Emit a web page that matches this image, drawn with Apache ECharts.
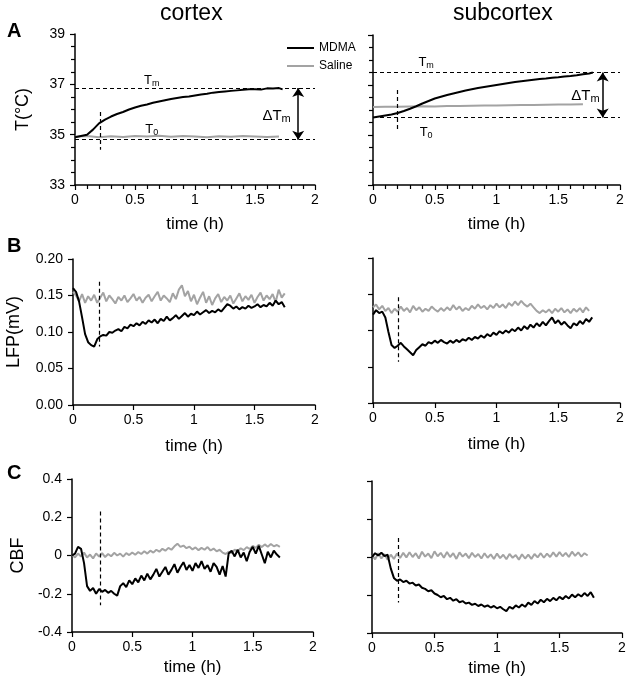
<!DOCTYPE html>
<html>
<head>
<meta charset="utf-8">
<script src="https://cdn.jsdelivr.net/npm/echarts@6/dist/echarts.min.js"></script>
<style>
html, body { margin: 0; padding: 0; background: #fff; }
#main { width: 629px; height: 685px; }
</style>
</head>
<body>
<div id="main"></div>
<script>
// ---- data ----
// temperature (A), smooth traces
var tempCortexMdma = [34.9, 34.95, 35.0, 35.2, 35.45, 35.6, 35.72, 35.82, 35.9, 36.0, 36.08, 36.15, 36.2, 36.27, 36.32, 36.37, 36.42, 36.46, 36.5, 36.52, 36.56, 36.6, 36.63, 36.67, 36.7, 36.72, 36.74, 36.76, 36.78, 36.8, 36.8, 36.79, 36.84, 36.83, 36.85, 36.8];
var tempCortexSaline = [34.92, 34.95, 34.9, 34.94, 34.91, 34.95, 34.93, 34.96, 34.92, 34.95, 34.93, 34.9, 34.94, 34.92, 34.95, 34.93, 34.91, 34.93];
var tempSubMdma = [35.7, 35.74, 35.78, 35.82, 35.88, 35.96, 36.05, 36.15, 36.26, 36.36, 36.46, 36.53, 36.6, 36.66, 36.72, 36.78, 36.83, 36.88, 36.92, 36.96, 37.0, 37.04, 37.08, 37.12, 37.15, 37.18, 37.21, 37.24, 37.26, 37.29, 37.31, 37.34, 37.36, 37.39, 37.43, 37.46, 37.5];
var tempSubSaline = [36.12, 36.13, 36.13, 36.14, 36.15, 36.14, 36.16, 36.16, 36.17, 36.18, 36.18, 36.19, 36.2, 36.2, 36.21, 36.22, 36.22, 36.23];

// LFP (B), sampled every 0.025 h
var lfpCortexMdma = [0.160, 0.155, 0.142, 0.120, 0.097, 0.086, 0.082, 0.080, 0.090, 0.094, 0.096, 0.095, 0.100, 0.099, 0.102, 0.104, 0.101, 0.107, 0.105, 0.110, 0.108, 0.112, 0.109, 0.114, 0.111, 0.116, 0.113, 0.117, 0.112, 0.118, 0.115, 0.121, 0.116, 0.119, 0.123, 0.118, 0.122, 0.126, 0.121, 0.125, 0.123, 0.128, 0.124, 0.127, 0.130, 0.126, 0.129, 0.127, 0.131, 0.128, 0.133, 0.138, 0.136, 0.132, 0.135, 0.131, 0.134, 0.132, 0.136, 0.133, 0.135, 0.138, 0.134, 0.137, 0.135, 0.140, 0.136, 0.143, 0.138, 0.141, 0.134];
var lfpCortexSaline = [0.155, 0.150, 0.142, 0.152, 0.140, 0.149, 0.143, 0.151, 0.140, 0.147, 0.154, 0.142, 0.150, 0.145, 0.139, 0.148, 0.143, 0.150, 0.141, 0.146, 0.152, 0.143, 0.148, 0.140, 0.147, 0.151, 0.142, 0.149, 0.155, 0.143, 0.150, 0.146, 0.141, 0.153, 0.145, 0.158, 0.164, 0.149, 0.156, 0.142, 0.151, 0.138, 0.147, 0.155, 0.140, 0.149, 0.137, 0.146, 0.152, 0.141, 0.148, 0.143, 0.150, 0.139, 0.146, 0.153, 0.142, 0.149, 0.144, 0.151, 0.140, 0.148, 0.154, 0.143, 0.150, 0.145, 0.152, 0.141, 0.158, 0.147, 0.153];
var lfpSubMdma = [0.122, 0.128, 0.124, 0.126, 0.118, 0.098, 0.080, 0.076, 0.079, 0.083, 0.078, 0.074, 0.070, 0.066, 0.073, 0.077, 0.081, 0.079, 0.084, 0.082, 0.086, 0.083, 0.087, 0.084, 0.082, 0.086, 0.083, 0.087, 0.084, 0.088, 0.086, 0.090, 0.087, 0.091, 0.089, 0.093, 0.090, 0.095, 0.092, 0.097, 0.094, 0.099, 0.096, 0.100, 0.097, 0.102, 0.099, 0.104, 0.100, 0.106, 0.102, 0.108, 0.104, 0.110, 0.106, 0.112, 0.107, 0.113, 0.118, 0.110, 0.114, 0.108, 0.112, 0.107, 0.103, 0.110, 0.107, 0.113, 0.109, 0.116, 0.112, 0.118];
var lfpSubSaline = [0.132, 0.136, 0.129, 0.134, 0.127, 0.131, 0.124, 0.130, 0.126, 0.133, 0.127, 0.131, 0.125, 0.134, 0.128, 0.132, 0.126, 0.130, 0.127, 0.133, 0.129, 0.126, 0.131, 0.127, 0.132, 0.128, 0.135, 0.129, 0.133, 0.127, 0.131, 0.128, 0.134, 0.130, 0.136, 0.131, 0.134, 0.129, 0.135, 0.131, 0.137, 0.132, 0.136, 0.131, 0.138, 0.134, 0.140, 0.135, 0.141, 0.136, 0.133, 0.137, 0.132, 0.127, 0.124, 0.128, 0.125, 0.129, 0.124, 0.130, 0.126, 0.131, 0.125, 0.129, 0.124, 0.130, 0.126, 0.131, 0.125, 0.132, 0.127];

// CBF (C), sampled every 0.025 h
var cbfCortexMdma = [0.000, 0.010, 0.045, 0.035, -0.040, -0.160, -0.185, -0.170, -0.200, -0.175, -0.190, -0.180, -0.195, -0.185, -0.200, -0.210, -0.160, -0.145, -0.165, -0.130, -0.150, -0.120, -0.140, -0.105, -0.130, -0.095, -0.125, -0.100, -0.070, -0.110, -0.085, -0.060, -0.100, -0.075, -0.045, -0.090, -0.060, -0.035, -0.075, -0.050, -0.080, -0.040, -0.065, -0.030, -0.070, -0.050, -0.085, -0.040, -0.060, -0.100, -0.055, -0.110, 0.010, 0.025, -0.005, 0.030, -0.010, 0.015, -0.030, 0.020, 0.045, 0.010, 0.050, 0.005, -0.040, 0.020, -0.010, 0.025, 0.005, -0.010];
var cbfCortexSaline = [0.005, -0.010, 0.010, -0.005, 0.015, -0.010, 0.005, -0.015, 0.010, -0.005, 0.012, -0.008, 0.008, -0.004, 0.014, 0.000, 0.010, -0.006, 0.012, 0.002, 0.016, 0.004, 0.018, 0.008, 0.022, 0.010, 0.025, 0.015, 0.030, 0.020, 0.035, 0.025, 0.040, 0.030, 0.048, 0.062, 0.045, 0.052, 0.038, 0.046, 0.032, 0.042, 0.028, 0.040, 0.030, 0.044, 0.026, 0.036, 0.022, 0.030, 0.015, 0.008, 0.020, 0.012, 0.030, 0.022, 0.038, 0.028, 0.044, 0.034, 0.050, 0.040, 0.056, 0.044, 0.058, 0.046, 0.060, 0.048, 0.055, 0.045];
var cbfSubMdma = [0.000, 0.020, 0.008, 0.022, 0.005, 0.012, -0.060, -0.110, -0.125, -0.118, -0.132, -0.125, -0.140, -0.135, -0.150, -0.145, -0.162, -0.168, -0.180, -0.175, -0.192, -0.200, -0.212, -0.205, -0.222, -0.215, -0.230, -0.222, -0.238, -0.232, -0.245, -0.240, -0.252, -0.246, -0.258, -0.250, -0.262, -0.255, -0.266, -0.258, -0.270, -0.262, -0.275, -0.285, -0.262, -0.272, -0.255, -0.266, -0.250, -0.262, -0.240, -0.252, -0.232, -0.245, -0.225, -0.238, -0.220, -0.232, -0.215, -0.228, -0.210, -0.222, -0.205, -0.218, -0.198, -0.212, -0.196, -0.208, -0.190, -0.205, -0.185, -0.215];
var cbfSubSaline = [0.010, -0.012, 0.020, -0.008, 0.015, -0.015, 0.012, -0.010, 0.018, -0.005, 0.022, -0.002, 0.025, 0.000, 0.020, -0.008, 0.028, 0.002, 0.018, -0.006, 0.030, 0.004, 0.022, -0.004, 0.026, 0.000, 0.020, -0.010, 0.024, 0.002, 0.018, -0.006, 0.022, 0.000, 0.016, -0.008, 0.020, -0.004, 0.014, -0.010, 0.018, -0.006, 0.012, -0.012, 0.016, -0.004, 0.010, -0.014, 0.014, -0.008, 0.012, -0.010, 0.016, -0.002, 0.020, -0.004, 0.018, 0.000, 0.024, 0.002, 0.026, 0.004, 0.022, 0.000, 0.028, 0.006, 0.024, 0.002, 0.020, 0.008];

// baseline / peak temperatures and injection time
var tmCortex = 36.85, t0Cortex = 34.8;
var tmSub = 37.5, t0Sub = 35.7;
var injectTime = [0.21, 0.2, 0.215, 0.205, 0.235, 0.21];

var FONT = 'Liberation Sans, Arial, sans-serif';
var GRAY = '#a3a3a3';

function steps(step, n) {
    var out = [];
    for (var i = 0; i < n; i++) out.push(+(i * step).toFixed(3));
    return out;
}
function pairs(times, vals) {
    return vals.map(function(v, i) { return [times[i], v]; });
}
function sampled(vals) {
    return pairs(steps(0.025, vals.length), vals);
}

var tTempCortex = steps(0.05, 35).concat([1.73]);
var tTempSub = steps(0.05, 36).concat([1.78]);
var tSaline = steps(0.1, 18);

var grids = [
    {left: 75, top: 34, width: 240, height: 151},
    {left: 373, top: 35, width: 247, height: 150},
    {left: 73, top: 259, width: 242, height: 146},
    {left: 373, top: 258, width: 247, height: 145},
    {left: 72, top: 479, width: 241, height: 153},
    {left: 372, top: 481, width: 250, height: 152}
];

function xAxis(i, minor, gap) {
    return {
        type: 'value', gridIndex: i, min: 0, max: 2, interval: 0.5,
        name: 'time (h)', nameLocation: 'middle', nameGap: gap,
        nameTextStyle: {fontSize: 17, color: '#000', fontFamily: FONT},
        axisLine: {onZero: false, lineStyle: {color: '#000', width: 1.5}},
        axisTick: {length: 5, lineStyle: {color: '#000', width: 1.2}},
        minorTick: {show: minor, splitNumber: 5, length: 4, lineStyle: {color: '#000', width: 1.2}},
        axisLabel: {fontSize: 14, color: '#000', fontFamily: FONT, margin: 8},
        splitLine: {show: false}
    };
}
function yAxis(i, opt) {
    return {
        type: 'value', gridIndex: i, min: opt.min, max: opt.max, interval: opt.interval,
        name: opt.name || '', nameLocation: 'middle', nameGap: opt.gap || 0,
        nameTextStyle: {fontSize: 18, color: '#000', fontFamily: FONT},
        axisLine: {show: true, onZero: false, lineStyle: {color: '#000', width: 1.5}},
        axisTick: {show: true, length: 5, lineStyle: {color: '#000', width: 1.2}},
        minorTick: {show: !!opt.minor, splitNumber: 4, length: 4, lineStyle: {color: '#000', width: 1.2}},
        axisLabel: {show: opt.labels, fontSize: 14, color: '#000', fontFamily: FONT, margin: 10, formatter: opt.fmt},
        splitLine: {show: false}
    };
}

var dash = {color: '#000', width: 1.2, type: [4, 3]};

function vline(t, y1, y2) {
    return [{coord: [t, y1], lineStyle: dash}, {coord: [t, y2], lineStyle: dash}];
}
function subLabel(main, sub, size) {
    return {
        show: true, position: 'inside', color: '#000',
        formatter: '{b|' + main + '}{s|' + sub + '}',
        rich: {
            b: {fontSize: size, fontFamily: FONT, color: '#000'},
            s: {fontSize: Math.round(size * 0.7), fontFamily: FONT, color: '#000', padding: [6, 0, 0, 0]}
        }
    };
}
function note(coord, main, sub, size) {
    return {coord: coord, label: subLabel(main, sub, size)};
}

function line(name, i, data, color, extra) {
    var s = {
        name: name, type: 'line', xAxisIndex: i, yAxisIndex: i,
        data: data, showSymbol: false, symbol: 'none', silent: true,
        lineStyle: {color: color, width: 2}, itemStyle: {color: color}
    };
    for (var k in extra) s[k] = extra[k];
    return s;
}

// Tm / T0 lines, injection marker, delta arrow and labels
function tempMarks(i, tm, t0, yTop, yBot, notes) {
    return {
        markLine: {
            silent: true, symbol: 'none', label: {show: false}, lineStyle: dash,
            data: [
                {yAxis: tm, lineStyle: dash},
                {yAxis: t0, lineStyle: dash},
                vline(injectTime[i], yTop, yBot),
                [{coord: [1.86, tm], symbol: 'arrow', symbolSize: 9, lineStyle: {color: '#000', width: 1.5, type: 'solid'}},
                 {coord: [1.86, t0], symbol: 'arrow', symbolSize: 9}]
            ]
        },
        markPoint: {
            silent: true, symbol: 'circle', symbolSize: 1,
            itemStyle: {color: 'rgba(0,0,0,0)'},
            data: notes
        }
    };
}
function injMark(i, yTop, yBot) {
    return {
        markLine: {
            silent: true, symbol: 'none', label: {show: false}, lineStyle: dash,
            data: [vline(injectTime[i], yTop, yBot)]
        }
    };
}

var chart = echarts.init(document.getElementById('main'));
chart.setOption({
    animation: false,
    backgroundColor: '#fff',
    textStyle: {fontFamily: FONT},
    grid: grids,
    legend: {
        data: ['MDMA', 'Saline'], orient: 'vertical', left: 282, top: 37,
        icon: 'rect', itemWidth: 27, itemHeight: 2, itemGap: 6,
        textStyle: {fontSize: 12, color: '#000', fontFamily: FONT}
    },
    graphic: [
        {type: 'text', left: 160, top: 2, style: {text: 'cortex', fontSize: 23, fontFamily: FONT, fill: '#000'}},
        {type: 'text', left: 453, top: 2, style: {text: 'subcortex', fontSize: 23, fontFamily: FONT, fill: '#000'}},
        {type: 'text', left: 7, top: 21, style: {text: 'A', fontSize: 20, fontWeight: 'bold', fontFamily: FONT, fill: '#000'}},
        {type: 'text', left: 7, top: 236, style: {text: 'B', fontSize: 20, fontWeight: 'bold', fontFamily: FONT, fill: '#000'}},
        {type: 'text', left: 7, top: 463, style: {text: 'C', fontSize: 20, fontWeight: 'bold', fontFamily: FONT, fill: '#000'}}
    ],
    xAxis: [
        xAxis(0, true, 31), xAxis(1, true, 31),
        xAxis(2, false, 33), xAxis(3, false, 33),
        xAxis(4, false, 27), xAxis(5, false, 27)
    ],
    yAxis: [
        yAxis(0, {min: 33, max: 39, interval: 2, minor: true, labels: true, name: 'T(°C)', gap: 43}),
        yAxis(1, {min: 33, max: 39, interval: 2, minor: true, labels: false}),
        yAxis(2, {min: 0, max: 0.2, interval: 0.05, labels: true, name: 'LFP(mV)', gap: 50,
                  fmt: function(v) { return v.toFixed(2); }}),
        yAxis(3, {min: 0, max: 0.2, interval: 0.05, labels: false}),
        yAxis(4, {min: -0.4, max: 0.4, interval: 0.2, labels: true, name: 'CBF', gap: 45}),
        yAxis(5, {min: -0.4, max: 0.4, interval: 0.2, labels: false})
    ],
    series: [
        line('Saline', 0, pairs(tSaline, tempCortexSaline), GRAY),
        line('MDMA', 0, pairs(tTempCortex, tempCortexMdma), '#000',
            tempMarks(0, tmCortex, t0Cortex, 35.9, 34.4, [
                note([0.64, 37.17], 'T', 'm', 13),
                note([0.64, 35.2], 'T', '0', 13),
                note([1.68, 35.75], 'ΔT', 'm', 15)
            ])),
        line('Saline', 1, pairs(tSaline, tempSubSaline), GRAY),
        line('MDMA', 1, pairs(tTempSub, tempSubMdma), '#000',
            tempMarks(1, tmSub, t0Sub, 36.8, 35.2, [
                note([0.43, 37.9], 'T', 'm', 13),
                note([0.43, 35.1], 'T', '0', 13),
                note([1.72, 36.55], 'ΔT', 'm', 15)
            ])),
        line('Saline', 2, sampled(lfpCortexSaline), GRAY),
        line('MDMA', 2, sampled(lfpCortexMdma), '#000', injMark(2, 0.169, 0.08)),
        line('Saline', 3, sampled(lfpSubSaline), GRAY),
        line('MDMA', 3, sampled(lfpSubMdma), '#000', injMark(3, 0.146, 0.057)),
        line('Saline', 4, sampled(cbfCortexSaline), GRAY),
        line('MDMA', 4, sampled(cbfCortexMdma), '#000', injMark(4, 0.23, -0.26)),
        line('Saline', 5, sampled(cbfSubSaline), GRAY),
        line('MDMA', 5, sampled(cbfSubMdma), '#000', injMark(5, 0.1, -0.24))
    ]
});
</script>
</body>
</html>
